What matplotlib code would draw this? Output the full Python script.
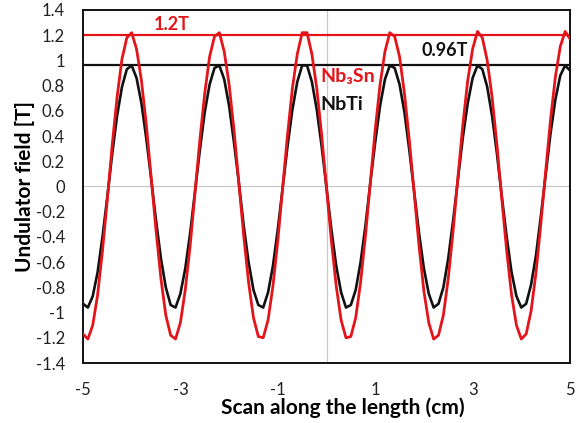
import matplotlib.pyplot as plt
import numpy as np

# scan position [cm]
scan_cm = np.round(np.arange(-5.0, 5.05, 0.1), 2)

# NbTi undulator field [T]
field_nbti = [
    -0.93, -0.96, -0.87, -0.68, -0.40, -0.08, 0.26, 0.56, 0.79, 0.93,
    0.96, 0.86, 0.66, 0.38, 0.06, -0.27, -0.57, -0.80, -0.94, -0.96,
    -0.85, -0.65, -0.37, -0.04, 0.29, 0.59, 0.81, 0.94, 0.96, 0.85,
    0.64, 0.35, 0.03, -0.31, -0.60, -0.82, -0.94, -0.96, -0.84, -0.63,
    -0.34, -0.01, 0.32, 0.61, 0.83, 0.96, 0.96, 0.83, 0.61, 0.32,
    -0.01, -0.34, -0.63, -0.84, -0.96, -0.94, -0.82, -0.60, -0.31, 0.03,
    0.35, 0.64, 0.85, 0.96, 0.94, 0.81, 0.59, 0.29, -0.04, -0.37,
    -0.65, -0.85, -0.96, -0.93, -0.80, -0.57, -0.27, 0.06, 0.39, 0.66,
    0.86, 0.96, 0.93, 0.79, 0.56, 0.26, -0.08, -0.40, -0.68, -0.87,
    -0.96, -0.93, -0.78, -0.55, -0.24, 0.09, 0.42, 0.69, 0.88, 0.96,
    0.92,
]

# Nb3Sn undulator field [T]
field_nb3sn = [
    -1.17, -1.21, -1.10, -0.86, -0.51, -0.10, 0.33, 0.71, 1.01, 1.18,
    1.22, 1.09, 0.84, 0.49, 0.07, -0.35, -0.73, -1.02, -1.18, -1.21,
    -1.08, -0.82, -0.47, -0.05, 0.37, 0.74, 1.03, 1.19, 1.22, 1.07,
    0.81, 0.45, 0.03, -0.39, -0.76, -1.04, -1.19, -1.20, -1.06, -0.79,
    -0.43, -0.01, 0.41, 0.78, 1.05, 1.22, 1.22, 1.05, 0.78, 0.41,
    -0.01, -0.43, -0.79, -1.06, -1.20, -1.19, -1.04, -0.76, -0.39, 0.03,
    0.45, 0.81, 1.07, 1.22, 1.19, 1.03, 0.74, 0.37, -0.05, -0.47,
    -0.83, -1.08, -1.21, -1.18, -1.02, -0.73, -0.35, 0.08, 0.49, 0.84,
    1.09, 1.23, 1.18, 1.00, 0.71, 0.33, -0.10, -0.51, -0.86, -1.10,
    -1.21, -1.17, -0.99, -0.69, -0.30, 0.12, 0.53, 0.87, 1.11, 1.23,
    1.17,
]

peak_nb3sn = 1.2
peak_nbti = 0.96
x_ticks = [-5, -3, -1, 1, 3, 5]
y_ticks = np.round(np.arange(-1.4, 1.41, 0.2), 1)

red = "#e3151b"
black = "#111111"

plt.rcParams["font.family"] = ["Lato", "DejaVu Sans"]

fig = plt.figure(figsize=(5.8, 4.23), dpi=100)
ax = fig.add_axes([83 / 580, 60 / 423, 487 / 580, 353 / 423])

# Excel-style axis lines through zero
ax.axhline(0, color="#c8c8c8", linewidth=0.9, zorder=1)
ax.axvline(0, color="#c8c8c8", linewidth=0.9, zorder=1)

ax.axhline(peak_nb3sn, color=red, linewidth=1.6, zorder=2)
ax.axhline(peak_nbti, color=black, linewidth=1.6, zorder=2)

ax.plot(scan_cm, field_nbti, color=black, linewidth=1.9, zorder=3)
ax.plot(scan_cm, field_nb3sn, color=red, linewidth=2.0, zorder=4)

ax.set_xlim(-5, 5)
ax.set_ylim(-1.4, 1.4)
ax.set_xticks(x_ticks)
ax.set_xticklabels([str(t) for t in x_ticks])
ax.set_yticks(y_ticks)
ax.set_yticklabels([f"{t:g}" if abs(t) > 1e-9 else "0" for t in y_ticks])
ax.tick_params(axis="both", length=0, labelsize=12, colors="#222222")
ax.tick_params(axis="x", pad=14)
ax.tick_params(axis="y", pad=13)

for side in ["left", "right", "top", "bottom"]:
    ax.spines[side].set_linewidth(1.4)
    ax.spines[side].set_color("#111111")

ax.set_xlabel("Scan along the length (cm)", fontsize=15, fontweight="bold", va="center")
ax.set_ylabel("Undulator field [T]", fontsize=15, fontweight="bold", va="center")
ax.xaxis.set_label_coords((343 - 83) / 487, -(408 - 363) / 353)
ax.yaxis.set_label_coords(-(83 - 25) / 487, 0.5)

ax.text(-3.17, 1.285, "1.2T", color=red, fontsize=13, fontweight="bold", ha="center", va="center")
ax.text(2.43, 1.08, "0.96T", color=black, fontsize=13, fontweight="bold", ha="center", va="center")
ax.text(-0.13, 0.87, "Nb₃Sn", color=red, fontsize=14, fontweight="bold", ha="left", va="center")
ax.text(-0.13, 0.65, "NbTi", color=black, fontsize=14, fontweight="bold", ha="left", va="center")

fig.savefig("out.png", dpi=100)
plt.close()
